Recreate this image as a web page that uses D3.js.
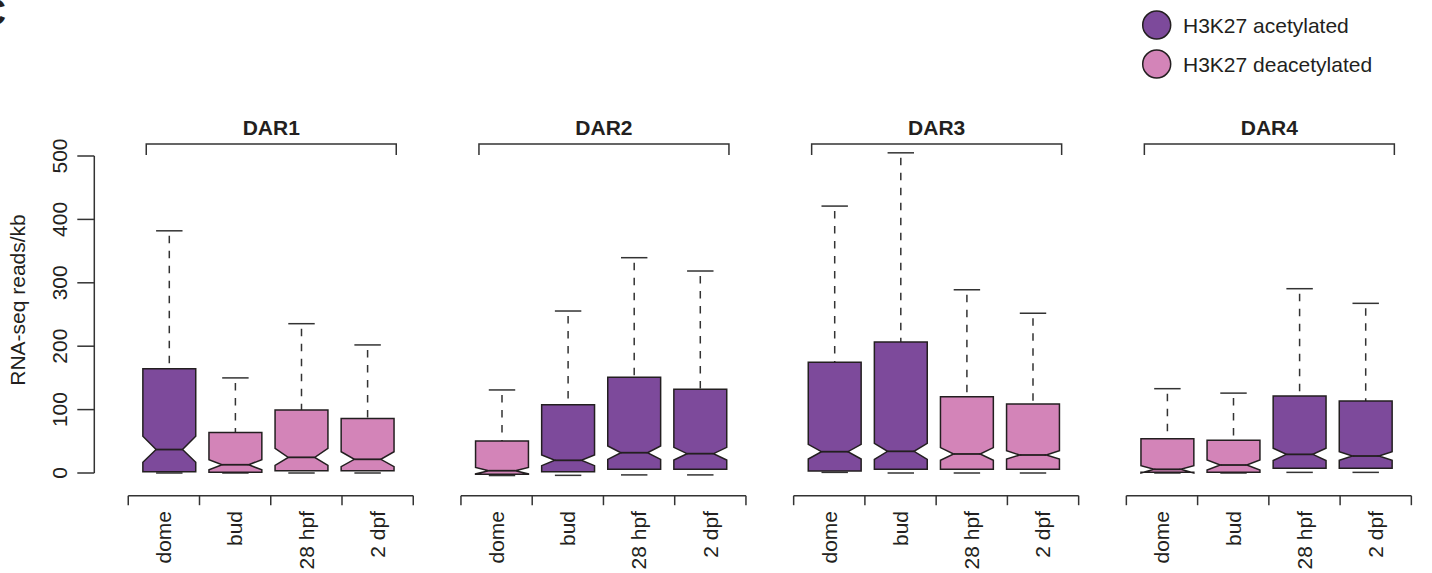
<!DOCTYPE html>
<html>
<head>
<meta charset="utf-8">
<script src="https://cdn.jsdelivr.net/npm/d3@7/dist/d3.min.js"></script>
<style>
  html, body { margin: 0; padding: 0; background: #ffffff; }
  svg { display: block; font-family: "Liberation Sans", Arial, Helvetica, sans-serif; }
</style>
</head>
<body>
<svg id="chart" width="1432" height="573"></svg>
<script>
// Regions and developmental stages
const groups = ["DAR1", "DAR2", "DAR3", "DAR4"];
const stages = ["dome", "bud", "28 hpf", "2 dpf"];

// H3K27 status of each box: "ac" = acetylated, "de" = deacetylated
const status = [
  ["ac", "de", "de", "de"],
  ["de", "ac", "ac", "ac"],
  ["ac", "ac", "de", "de"],
  ["de", "de", "ac", "ac"]
];

// Box statistics per region (rows) and stage (columns), RNA-seq reads/kb
const whiskerLow = [
  [0, 0, 0, 0],
  [-4, -3.7, -3, -3],
  [1, 0, 0, 0],
  [0, 0, 1, 1]
];
const q1 = [
  [2, 1, 3.6, 3.6],
  [-2, 2, 5.8, 5.8],
  [3.2, 5.8, 5.8, 5.8],
  [1, 1, 7.3, 7.3]
];
const median = [
  [37, 13, 24.7, 21.6],
  [3.6, 20, 32, 30.5],
  [33.6, 34.2, 30, 28.4],
  [5.8, 12.6, 29.4, 26.8]
];
const q3 = [
  [164.5, 64, 99.4, 86],
  [50.5, 107.8, 151, 132],
  [174.6, 206.6, 120.4, 108.8],
  [54, 51.5, 121.5, 113.5]
];
const whiskerHigh = [
  [382, 150, 235.5, 202],
  [131, 255.5, 339.6, 318.6],
  [421, 505, 289, 252],
  [133, 126, 290.7, 267.6]
];
const notchLow = [
  [17, 5, 12, 10],
  [-1.5, 11.6, 21.4, 20.5],
  [22, 21.6, 20, 22],
  [0, 4.7, 19.8, 20]
];
const notchHigh = [
  [58, 21, 39, 33.6],
  [8.7, 28.4, 42.6, 40.5],
  [45.2, 46.8, 40, 35],
  [11.5, 20.5, 39, 33.6]
];

const yTicks = [0, 100, 200, 300, 400, 500];
const legendKeys = ["ac", "de"];
const legendLabels = ["H3K27 acetylated", "H3K27 deacetylated"];
const yTitle = "RNA-seq reads/kb";

// Styling
const fills = { ac: "#7d4a9b", de: "#d384b8" };
const ink = "#231f20";
const axisInk = "#333333";
const fontSize = 21;

const svg = d3.select("#chart");

// Scales
const y = d3.scaleLinear().domain([0, 500]).range([473, 156]);
const groupX = d3.scaleBand().domain(groups).range([136.25, 1398.75])
  .paddingInner(0.2053).paddingOuter(0);
const stageX = d3.scaleBand().domain(stages).range([0, groupX.bandwidth()])
  .paddingInner(0.2).paddingOuter(0.1);

// Flatten into box records
const boxes = [];
groups.forEach((g, gi) => {
  stages.forEach((s, si) => {
    boxes.push({
      group: g, stage: s, key: status[gi][si],
      lo: whiskerLow[gi][si], q1: q1[gi][si], med: median[gi][si],
      q3: q3[gi][si], hi: whiskerHigh[gi][si],
      nlo: notchLow[gi][si], nhi: notchHigh[gi][si]
    });
  });
});

// Y axis (labels parallel to the axis)
const yAxisX = 94.3;
const yg = svg.append("g");
yg.append("line")
  .attr("x1", yAxisX).attr("x2", yAxisX)
  .attr("y1", y(0)).attr("y2", y(500))
  .attr("stroke", axisInk).attr("stroke-width", 1.5);
yg.selectAll("line.tick").data(yTicks).join("line")
  .attr("class", "tick")
  .attr("x1", yAxisX - 17).attr("x2", yAxisX)
  .attr("y1", d => y(d)).attr("y2", d => y(d))
  .attr("stroke", axisInk).attr("stroke-width", 1.5);
yg.selectAll("text").data(yTicks).join("text")
  .attr("transform", d => `translate(67,${y(d)}) rotate(-90)`)
  .attr("text-anchor", "middle")
  .attr("font-size", fontSize)
  .attr("fill", ink)
  .text(d => d);

svg.append("text")
  .attr("transform", "translate(25,300) rotate(-90)")
  .attr("text-anchor", "middle")
  .attr("font-size", fontSize)
  .attr("fill", ink)
  .text(yTitle);

// One panel per region
groups.forEach(g => {
  const gx = groupX(g);
  const panel = svg.append("g");

  // Bracket and region title
  const bx0 = gx + 10, bx1 = gx + 260;
  panel.append("path")
    .attr("d", `M${bx0},155 V144 H${bx1} V155`)
    .attr("fill", "none").attr("stroke", axisInk).attr("stroke-width", 1.5);
  panel.append("text")
    .attr("x", (bx0 + bx1) / 2).attr("y", 135)
    .attr("text-anchor", "middle")
    .attr("font-size", fontSize).attr("font-weight", "bold")
    .attr("fill", ink)
    .text(g);

  // Category axis below the boxes
  const axisX = d3.scaleBand().domain(stages).range([gx - 8, gx + 277]);
  const axY = 495.7;
  const bounds = stages.map(s => axisX(s)).concat([axisX.range()[1]]);
  panel.append("line")
    .attr("x1", bounds[0]).attr("x2", bounds[bounds.length - 1])
    .attr("y1", axY).attr("y2", axY)
    .attr("stroke", axisInk).attr("stroke-width", 1.5);
  panel.selectAll("line.tick").data(bounds).join("line")
    .attr("class", "tick")
    .attr("x1", d => d).attr("x2", d => d)
    .attr("y1", axY).attr("y2", axY + 9.5)
    .attr("stroke", axisInk).attr("stroke-width", 1.5);
  panel.selectAll("text.stage").data(stages).join("text")
    .attr("class", "stage")
    .attr("transform", s => `translate(${axisX(s) + axisX.bandwidth() / 2},511) rotate(-90)`)
    .attr("text-anchor", "end")
    .attr("dy", "0.35em")
    .attr("font-size", fontSize)
    .attr("fill", ink)
    .text(s => s);

  // Notched boxes
  const data = boxes.filter(b => b.group === g);
  const w = stageX.bandwidth();
  const bg = panel.selectAll("g.box").data(data).join("g").attr("class", "box");

  bg.each(function (b) {
    const sel = d3.select(this);
    const cx = gx + stageX(b.stage) + w / 2;
    const L = cx - w / 2, R = cx + w / 2;
    const Li = cx - w / 4, Ri = cx + w / 4;

    // whiskers (dashed) and staples
    [[b.q3, b.hi], [b.q1, b.lo]].forEach(([from, to]) => {
      sel.append("line")
        .attr("x1", cx).attr("x2", cx)
        .attr("y1", y(to)).attr("y2", y(from))
        .attr("stroke", axisInk).attr("stroke-width", 1.5)
        .attr("stroke-dasharray", "7.5,7.5")
        .attr("stroke-dashoffset", -5);
      sel.append("line")
        .attr("x1", cx - w / 4).attr("x2", cx + w / 4)
        .attr("y1", y(to)).attr("y2", y(to))
        .attr("stroke", axisInk).attr("stroke-width", 1.5);
    });

    const pts = [
      [L, y(b.q1)], [L, y(b.nlo)], [Li, y(b.med)], [L, y(b.nhi)], [L, y(b.q3)],
      [R, y(b.q3)], [R, y(b.nhi)], [Ri, y(b.med)], [R, y(b.nlo)], [R, y(b.q1)]
    ];
    sel.append("path")
      .attr("d", "M" + pts.map(p => p.join(",")).join("L") + "Z")
      .attr("fill", fills[b.key])
      .attr("stroke", ink).attr("stroke-width", 1.5)
      .attr("stroke-linejoin", "miter");
    sel.append("line")
      .attr("x1", Li).attr("x2", Ri)
      .attr("y1", y(b.med)).attr("y2", y(b.med))
      .attr("stroke", ink).attr("stroke-width", 1.8);
  });
});

// Legend
const lg = svg.append("g");
legendKeys.forEach((k, i) => {
  const cy = 25 + i * 39;
  lg.append("circle")
    .attr("cx", 1156.7).attr("cy", cy).attr("r", 14)
    .attr("fill", fills[k]).attr("stroke", ink).attr("stroke-width", 1.5);
  lg.append("text")
    .attr("x", 1183).attr("y", cy + 7.5)
    .attr("font-size", fontSize).attr("fill", ink)
    .text(legendLabels[i]);
});

// Panel letter, mostly cut off at the left edge
svg.append("text")
  .attr("x", -20).attr("y", 25)
  .attr("font-size", 36).attr("font-weight", "bold")
  .attr("fill", ink)
  .text("C");
</script>
</body>
</html>
